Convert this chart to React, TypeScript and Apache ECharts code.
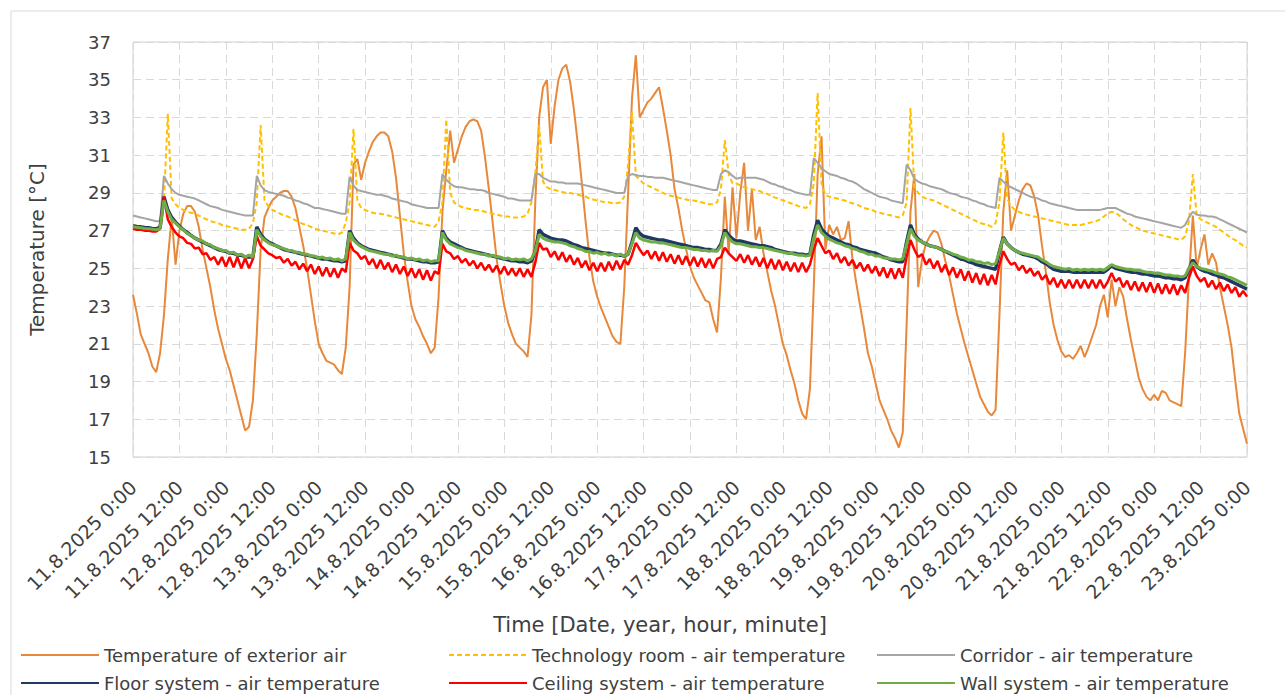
import React, { useEffect, useRef } from "react";
import * as echarts from "echarts";

// Time axis: hours since 11.8.2025 0:00, hourly samples
const START_DAY = 11;
const MONTH_YEAR = "8.2025";
const STEP_H = 1;
const X_MAX_H = 288;
const X_TICK_H = 12;
const Y_MIN = 15;
const Y_MAX = 37;
const Y_TICK = 2;

const SERIES_NAMES = [
  "Temperature of exterior air",
  "Technology room - air temperature",
  "Corridor - air temperature",
  "Floor system - air temperature",
  "Ceiling system - air temperature",
  "Wall system - air temperature",
];

const EXTERIOR = [
  23.6, 22.6, 21.5, 21.0, 20.5, 19.8, 19.5, 20.5, 22.5, 25.5, 27.7, 25.2,
  27.0, 27.9, 28.3, 28.3, 28.0, 27.2, 26.0, 25.0, 24.0, 22.8, 21.8, 21.0,
  20.2, 19.6, 18.8, 18.0, 17.2, 16.4, 16.6, 18.0, 21.5, 26.0, 27.7, 28.2,
  28.6, 28.8, 29.0, 29.1, 29.1, 28.8, 28.2, 27.2, 26.2, 25.0, 23.6, 22.2,
  21.0, 20.5, 20.1, 20.0, 19.9, 19.6, 19.4, 20.8, 24.0, 30.5, 30.8, 29.7,
  30.6, 31.2, 31.7, 32.0, 32.2, 32.2, 32.0, 31.2, 29.8, 27.8, 25.8, 24.3,
  23.0, 22.3, 21.9, 21.4, 21.0, 20.5, 20.8, 23.5, 28.0, 30.2, 32.3, 30.6,
  31.3, 32.0, 32.5, 32.8, 32.9, 32.8, 32.3, 30.9, 29.2, 27.4, 25.5, 24.2,
  23.0, 22.1, 21.5, 21.0, 20.8, 20.6, 20.3, 22.5, 28.5, 33.0, 34.6, 35.0,
  31.6, 33.6, 35.0, 35.6, 35.8, 34.9, 33.4, 31.6, 29.6, 27.5, 25.6, 24.3,
  23.5, 22.9, 22.4, 21.9, 21.4, 21.1, 21.0, 24.0, 29.0, 34.0, 36.3, 33.0,
  33.4, 33.8, 34.0, 34.3, 34.6, 33.5, 32.3, 31.0, 29.2, 28.2, 27.0, 26.0,
  25.1, 24.5, 24.1, 23.7, 23.3, 23.2, 22.3, 21.6, 24.5, 28.8, 25.8, 29.3,
  26.6, 29.0, 30.6, 27.0, 29.2, 26.5, 27.2, 25.8, 24.8, 23.8, 23.0, 22.0,
  21.0, 20.4, 19.6, 18.9, 18.0, 17.3, 17.0, 18.6, 24.0, 30.0, 32.0, 26.0,
  27.3, 26.8, 27.2, 26.5, 26.6, 27.5, 25.5, 24.2, 23.0, 21.8, 20.5, 19.8,
  18.9, 18.0, 17.5, 17.0, 16.4, 16.0, 15.5, 16.3, 22.0, 28.0, 30.0, 24.0,
  25.5, 26.3, 26.7, 27.0, 26.9, 26.3, 25.4, 24.6, 23.6, 22.6, 21.8, 21.0,
  20.3, 19.6, 18.9, 18.2, 17.8, 17.4, 17.2, 17.5, 22.5, 28.0, 30.2, 27.0,
  27.8, 28.6, 29.2, 29.5, 29.4, 28.8, 27.8, 26.2, 24.8, 23.2, 22.0, 21.2,
  20.6, 20.3, 20.4, 20.2, 20.5, 20.9, 20.3, 20.8, 21.4, 22.0, 23.0, 23.6,
  22.4, 24.4, 23.0, 24.0, 23.5, 22.3, 21.2, 20.2, 19.2, 18.6, 18.2, 18.0,
  18.3, 18.0, 18.5, 18.4, 18.0, 17.9, 17.8, 17.7, 20.5, 24.5, 27.8, 25.0,
  26.0, 26.8, 25.2, 25.8, 25.3, 24.0, 23.0, 22.0, 20.8, 19.0, 17.3, 16.5,
  15.7,
];

const TECH_ROOM = [
  27.3, 27.25, 27.2, 27.2, 27.15, 27.1, 27.1, 27.3, 28.5, 33.2, 28.7, 28.4,
  28.2, 28.1, 28.0, 27.95, 27.9, 27.8, 27.7, 27.6, 27.5, 27.45, 27.4, 27.3,
  27.25, 27.2, 27.15, 27.1, 27.05, 27.05, 27.1, 27.4, 28.5, 32.6, 28.6, 28.3,
  28.1, 28.0, 27.9, 27.8, 27.75, 27.65, 27.55, 27.45, 27.35, 27.3, 27.2, 27.1,
  27.05, 27.0, 26.95, 26.9, 26.85, 26.8, 26.9, 27.4, 28.5, 32.4, 28.6, 28.2,
  28.1, 28.0, 27.95, 27.9, 27.9, 27.85, 27.8, 27.75, 27.7, 27.65, 27.6, 27.55,
  27.5, 27.45, 27.4, 27.35, 27.3, 27.25, 27.2, 27.5, 28.5, 32.9, 29.0, 28.5,
  28.35, 28.25, 28.2, 28.15, 28.1, 28.1, 28.05, 28.0, 27.95, 27.9, 27.85, 27.8,
  27.75, 27.75, 27.7, 27.7, 27.7, 27.75, 27.9, 28.5, 30.0, 32.6, 29.6, 29.3,
  29.2, 29.15, 29.1, 29.05, 29.0, 29.0, 28.95, 28.9, 28.85, 28.8, 28.7, 28.65,
  28.6, 28.55, 28.5, 28.5, 28.45, 28.45, 28.5, 28.8, 30.5, 33.3, 29.9, 29.7,
  29.5, 29.4, 29.3, 29.2, 29.1, 29.0, 28.9, 28.85, 28.8, 28.75, 28.7, 28.65,
  28.6, 28.6, 28.55, 28.5, 28.45, 28.4, 28.4, 28.5, 29.2, 31.8, 30.0, 29.5,
  29.5, 29.4, 29.3, 29.25, 29.2, 29.15, 29.1, 29.0, 28.95, 28.85, 28.75, 28.7,
  28.6, 28.55, 28.45, 28.4, 28.3, 28.25, 28.2, 28.4, 29.5, 34.3, 29.5, 28.9,
  28.8, 28.75, 28.7, 28.65, 28.6, 28.5, 28.45, 28.4, 28.3, 28.2, 28.15, 28.1,
  28.0, 27.95, 27.9, 27.85, 27.8, 27.75, 27.7, 27.8, 28.5, 33.5, 29.3, 29.0,
  28.8, 28.7, 28.65, 28.6, 28.5, 28.4, 28.3, 28.2, 28.1, 28.0, 27.9, 27.8,
  27.7, 27.6, 27.5, 27.4, 27.35, 27.3, 27.2, 27.4, 28.5, 32.2, 28.7, 28.3,
  28.1, 28.0, 27.9, 27.85, 27.8, 27.75, 27.7, 27.65, 27.6, 27.55, 27.5, 27.45,
  27.4, 27.35, 27.3, 27.3, 27.3, 27.3, 27.35, 27.4, 27.45, 27.5, 27.6, 27.75,
  27.9, 28.0, 27.95, 27.8, 27.6, 27.45, 27.3, 27.2, 27.1, 27.0, 26.95, 26.9,
  26.85, 26.8, 26.75, 26.7, 26.65, 26.6, 26.55, 26.5, 26.7, 27.5, 30.0, 27.8,
  27.6, 27.5, 27.4, 27.3, 27.2, 27.05, 26.9, 26.75, 26.6, 26.5, 26.35, 26.2,
  26.1,
];

const CORRIDOR = [
  27.8, 27.75, 27.7, 27.65, 27.6, 27.55, 27.5, 27.5, 29.9, 29.5, 29.2, 29.0,
  28.9, 28.85, 28.8, 28.75, 28.7, 28.6, 28.5, 28.4, 28.3, 28.25, 28.2, 28.1,
  28.05, 28.0, 27.95, 27.9, 27.85, 27.8, 27.8, 27.8, 29.9, 29.4, 29.15, 29.05,
  29.0, 28.95, 28.9, 28.85, 28.75, 28.7, 28.6, 28.55, 28.45, 28.4, 28.3, 28.2,
  28.2, 28.15, 28.1, 28.05, 28.0, 27.95, 27.9, 27.9, 29.85, 29.4, 29.15, 29.1,
  29.05, 29.0, 28.95, 28.9, 28.9, 28.85, 28.8, 28.7, 28.65, 28.6, 28.55, 28.5,
  28.4, 28.35, 28.3, 28.25, 28.2, 28.2, 28.2, 28.2, 30.0, 29.7, 29.5, 29.35,
  29.3, 29.3, 29.25, 29.2, 29.2, 29.15, 29.15, 29.1, 29.0, 28.95, 28.9, 28.85,
  28.8, 28.7, 28.7, 28.65, 28.6, 28.6, 28.6, 28.6, 30.0, 30.0, 29.8, 29.7,
  29.6, 29.6, 29.55, 29.55, 29.5, 29.5, 29.5, 29.5, 29.45, 29.4, 29.35, 29.3,
  29.25, 29.2, 29.15, 29.1, 29.05, 29.0, 29.0, 29.0, 29.9, 30.0, 29.95, 29.9,
  29.9, 29.85, 29.85, 29.8, 29.8, 29.8, 29.75, 29.7, 29.65, 29.6, 29.55, 29.5,
  29.45, 29.4, 29.35, 29.3, 29.25, 29.2, 29.15, 29.15, 30.0, 30.2, 30.1, 29.9,
  29.75, 29.8, 29.8, 29.8, 29.8, 29.8, 29.75, 29.7, 29.6, 29.5, 29.45, 29.35,
  29.3, 29.2, 29.15, 29.05, 29.0, 28.95, 28.9, 28.9, 30.85, 30.6, 30.3, 30.15,
  30.0, 29.95, 29.9, 29.8, 29.75, 29.65, 29.6, 29.5, 29.35, 29.2, 29.1, 29.0,
  28.9, 28.8, 28.75, 28.7, 28.6, 28.55, 28.5, 28.45, 30.5, 30.2, 29.75, 29.6,
  29.5, 29.45, 29.35, 29.3, 29.25, 29.2, 29.1, 29.0, 28.95, 28.9, 28.8, 28.75,
  28.7, 28.6, 28.55, 28.45, 28.4, 28.3, 28.25, 28.2, 29.8, 29.6, 29.4, 29.3,
  29.2, 29.1, 29.0, 28.9, 28.8, 28.75, 28.7, 28.6, 28.55, 28.45, 28.4, 28.35,
  28.3, 28.25, 28.2, 28.15, 28.1, 28.1, 28.1, 28.1, 28.1, 28.1, 28.1, 28.15,
  28.2, 28.2, 28.2, 28.1, 28.0, 27.9, 27.85, 27.75, 27.7, 27.65, 27.6, 27.55,
  27.5, 27.45, 27.4, 27.35, 27.3, 27.25, 27.2, 27.15, 27.3, 27.7, 28.0, 27.85,
  27.8, 27.8, 27.75, 27.75, 27.7, 27.6, 27.5, 27.4, 27.3, 27.2, 27.1, 27.0,
  26.9,
];

const FLOOR_SYSTEM = [
  27.25, 27.22, 27.2, 27.17, 27.15, 27.12, 27.1, 27.15, 28.8, 28.1, 27.7, 27.45,
  27.25, 27.05, 26.9, 26.75, 26.6, 26.5, 26.4, 26.3, 26.2, 26.1, 26.0, 25.95,
  25.9, 25.8, 25.8, 25.7, 25.7, 25.6, 25.6, 25.6, 27.2, 26.8, 26.55, 26.4,
  26.3, 26.2, 26.1, 26.0, 25.95, 25.9, 25.85, 25.8, 25.75, 25.7, 25.65, 25.6,
  25.55, 25.5, 25.5, 25.45, 25.4, 25.4, 25.35, 25.4, 27.0, 26.6, 26.35, 26.2,
  26.1, 26.0, 25.95, 25.9, 25.85, 25.8, 25.75, 25.7, 25.65, 25.6, 25.55, 25.5,
  25.5, 25.45, 25.4, 25.35, 25.35, 25.3, 25.3, 25.35, 27.0, 26.6, 26.4, 26.3,
  26.2, 26.1, 26.0, 25.95, 25.9, 25.85, 25.8, 25.75, 25.7, 25.65, 25.6, 25.55,
  25.5, 25.45, 25.4, 25.4, 25.35, 25.35, 25.3, 25.4, 25.9, 27.05, 26.8, 26.7,
  26.6, 26.55, 26.5, 26.5, 26.45, 26.35, 26.25, 26.2, 26.1, 26.05, 26.0, 25.95,
  25.9, 25.85, 25.8, 25.8, 25.75, 25.7, 25.7, 25.65, 25.75, 26.4, 27.15, 26.85,
  26.7, 26.65, 26.6, 26.55, 26.5, 26.5, 26.45, 26.4, 26.35, 26.3, 26.25, 26.2,
  26.15, 26.1, 26.1, 26.05, 26.0, 26.0, 25.95, 25.95, 26.3, 27.05, 26.75, 26.55,
  26.45, 26.45, 26.4, 26.35, 26.3, 26.25, 26.2, 26.2, 26.15, 26.1, 26.0, 25.95,
  25.9, 25.85, 25.8, 25.8, 25.75, 25.75, 25.7, 25.75, 26.8, 27.55, 27.1, 26.85,
  26.7, 26.6, 26.5, 26.4, 26.3, 26.25, 26.15, 26.1, 26.0, 25.95, 25.9, 25.85,
  25.8, 25.7, 25.6, 25.55, 25.45, 25.4, 25.35, 25.35, 26.4, 27.3, 26.8, 26.55,
  26.4, 26.3, 26.2, 26.15, 26.1, 26.0, 25.9, 25.8, 25.7, 25.6, 25.5, 25.45,
  25.35, 25.3, 25.2, 25.15, 25.1, 25.05, 25.0, 24.95, 25.9, 26.65, 26.3, 26.1,
  25.95, 25.85, 25.75, 25.7, 25.65, 25.6, 25.5, 25.35, 25.25, 25.1, 24.95, 24.9,
  24.85, 24.85, 24.85, 24.8, 24.8, 24.8, 24.8, 24.8, 24.8, 24.8, 24.8, 24.8,
  24.95, 25.15, 25.0, 24.95, 24.9, 24.85, 24.8, 24.8, 24.75, 24.7, 24.7, 24.65,
  24.6, 24.6, 24.55, 24.5, 24.5, 24.45, 24.45, 24.4, 24.5, 24.95, 25.45, 25.1,
  24.95, 24.85, 24.8, 24.7, 24.65, 24.55, 24.5, 24.4, 24.3, 24.2, 24.1, 24.0,
  23.9,
];

const CEILING_SYSTEM = [
  27.1, 27.05, 27.05, 27.0, 27.0, 26.95, 26.95, 27.1, 28.8, 27.6, 27.2, 26.9,
  26.7, 26.6, 26.35, 26.3, 26.05, 26.1, 25.75, 25.8, 25.45, 25.6, 25.2, 25.6,
  25.1, 25.6, 25.05, 25.6, 25.0, 25.55, 25.0, 25.5, 26.7, 26.2, 26.0, 25.8,
  25.7, 25.55, 25.6, 25.3, 25.5, 25.15, 25.35, 24.95, 25.25, 24.85, 25.2, 24.7,
  25.1, 24.6, 25.05, 24.55, 25.0, 24.5, 25.0, 24.8, 26.35, 25.95, 25.8, 25.5,
  25.65, 25.2, 25.5, 25.0, 25.45, 24.95, 25.3, 24.8, 25.2, 24.7, 25.1, 24.6,
  25.0, 24.5, 24.95, 24.4, 24.9, 24.35, 24.85, 24.7, 26.3, 25.9, 25.8, 25.5,
  25.65, 25.3, 25.5, 25.15, 25.4, 25.0, 25.3, 24.9, 25.2, 24.8, 25.15, 24.7,
  25.1, 24.65, 25.0, 24.6, 25.0, 24.55, 24.95, 24.55, 25.3, 26.35, 26.0, 26.05,
  25.6, 25.9, 25.45, 25.85, 25.35, 25.7, 25.2, 25.55, 25.05, 25.4, 24.9, 25.3,
  24.85, 25.3, 24.85, 25.35, 24.9, 25.4, 24.95, 25.45, 25.2, 25.7, 26.35, 26.0,
  25.7, 25.95, 25.5, 25.9, 25.4, 25.85, 25.35, 25.75, 25.25, 25.7, 25.2, 25.65,
  25.15, 25.6, 25.1, 25.55, 25.05, 25.5, 25.0, 25.5, 25.6, 26.1, 25.8, 25.6,
  25.4, 25.75, 25.3, 25.7, 25.2, 25.6, 25.1, 25.55, 25.0, 25.5, 24.95, 25.45,
  24.9, 25.35, 24.85, 25.3, 24.8, 25.3, 24.8, 25.2, 26.0, 26.6, 26.2, 25.8,
  25.95, 25.5, 25.8, 25.3, 25.6, 25.15, 25.45, 25.0, 25.3, 24.85, 25.2, 24.75,
  25.1, 24.6, 25.05, 24.5, 25.0, 24.45, 25.0, 24.5, 25.6, 26.5, 26.0, 25.6,
  25.75, 25.2, 25.5, 25.0, 25.4, 24.8, 25.2, 24.65, 25.05, 24.5, 24.95, 24.35,
  24.85, 24.25, 24.75, 24.15, 24.7, 24.1, 24.65, 24.15, 25.2, 25.9, 25.5, 25.2,
  25.3, 24.9, 25.15, 24.75, 25.0, 24.6, 24.85, 24.4, 24.65, 24.15, 24.5, 24.0,
  24.4, 23.95, 24.4, 23.95, 24.4, 23.95, 24.4, 23.95, 24.4, 23.95, 24.4, 23.95,
  24.3, 24.75, 24.3, 24.5, 24.0, 24.35, 23.85, 24.3, 23.8, 24.25, 23.75, 24.25,
  23.7, 24.2, 23.65, 24.15, 23.65, 24.15, 23.6, 24.1, 23.7, 24.5, 25.1, 24.6,
  24.3, 24.5, 24.0, 24.35, 23.9, 24.25, 23.8, 24.15, 23.7, 24.0, 23.5, 23.8,
  23.5,
];

const WALL_SYSTEM = [
  27.2, 27.18, 27.15, 27.12, 27.1, 27.08, 27.05, 27.1, 28.6, 28.0, 27.6, 27.4,
  27.2, 27.05, 26.85, 26.75, 26.6, 26.5, 26.45, 26.3, 26.25, 26.1, 26.05, 25.95,
  25.95, 25.8, 25.85, 25.7, 25.75, 25.6, 25.7, 25.6, 27.05, 26.7, 26.5, 26.35,
  26.25, 26.2, 26.1, 26.05, 25.95, 25.95, 25.85, 25.85, 25.75, 25.75, 25.65, 25.65,
  25.55, 25.6, 25.5, 25.55, 25.45, 25.5, 25.4, 25.5, 26.9, 26.5, 26.3, 26.15,
  26.05, 25.95, 25.9, 25.85, 25.8, 25.75, 25.75, 25.65, 25.7, 25.6, 25.6, 25.5,
  25.55, 25.45, 25.5, 25.4, 25.45, 25.35, 25.4, 25.4, 26.9, 26.5, 26.3, 26.2,
  26.1, 26.05, 25.95, 25.9, 25.85, 25.8, 25.75, 25.75, 25.65, 25.7, 25.6, 25.6,
  25.5, 25.55, 25.45, 25.5, 25.45, 25.5, 25.4, 25.5, 25.9, 26.8, 26.6, 26.5,
  26.45, 26.4, 26.4, 26.35, 26.3, 26.2, 26.15, 26.05, 26.0, 25.9, 25.9, 25.8,
  25.85, 25.75, 25.8, 25.7, 25.75, 25.65, 25.75, 25.65, 25.75, 26.3, 26.9, 26.6,
  26.5, 26.45, 26.4, 26.4, 26.35, 26.35, 26.3, 26.25, 26.2, 26.15, 26.1, 26.1,
  26.05, 26.0, 26.0, 25.95, 25.95, 25.9, 25.95, 25.9, 26.2, 26.9, 26.6, 26.4,
  26.3, 26.3, 26.25, 26.2, 26.15, 26.15, 26.1, 26.1, 26.05, 26.0, 25.95, 25.9,
  25.85, 25.8, 25.8, 25.75, 25.7, 25.7, 25.65, 25.7, 26.6, 27.3, 26.9, 26.7,
  26.55, 26.45, 26.35, 26.3, 26.2, 26.15, 26.05, 26.0, 25.9, 25.85, 25.75, 25.75,
  25.65, 25.65, 25.55, 25.55, 25.5, 25.5, 25.45, 25.5, 26.3, 27.1, 26.7, 26.5,
  26.4, 26.3, 26.2, 26.15, 26.1, 26.0, 25.9, 25.85, 25.75, 25.7, 25.6, 25.55,
  25.45, 25.45, 25.35, 25.35, 25.25, 25.3, 25.2, 25.25, 25.9, 26.6, 26.3, 26.1,
  25.95, 25.85, 25.8, 25.75, 25.7, 25.65, 25.6, 25.45, 25.35, 25.2, 25.1, 25.05,
  25.0, 24.95, 25.0, 24.9, 24.95, 24.9, 24.95, 24.9, 24.95, 24.9, 24.95, 24.9,
  25.05, 25.2, 25.1, 25.05, 25.0, 24.95, 24.95, 24.9, 24.9, 24.85, 24.8, 24.8,
  24.75, 24.75, 24.7, 24.65, 24.65, 24.6, 24.6, 24.55, 24.6, 25.0, 25.3, 25.1,
  25.0, 24.95, 24.9, 24.85, 24.75, 24.7, 24.65, 24.55, 24.5, 24.4, 24.3, 24.2,
  24.1,
];

const SERIES_VALUES = [EXTERIOR, TECH_ROOM, CORRIDOR, FLOOR_SYSTEM, CEILING_SYSTEM, WALL_SYSTEM];
const SERIES_COLORS = ["#E8883A", "#FFC000", "#A5A5A5", "#1F3864", "#FF0000", "#70AD47"];
const SERIES_WIDTHS = [2, 2, 2, 3.5, 2.5, 3];

const FONT = '"DejaVu Sans", sans-serif';
const TEXT_COLOR = "#404040";

function tickLabel(v: number): string {
  const day = START_DAY + Math.floor(v / 24);
  const hour = v % 24;
  return `${day}.${MONTH_YEAR} ${hour}:00`;
}

export default function App() {
  const ref = useRef<HTMLDivElement>(null);

  useEffect(() => {
    document.body.style.margin = "0";
    const chart = echarts.init(ref.current!, null, { renderer: "svg" });

    const legendX = [20, 448, 876];
    const legendY = [646, 674];

    const option: any = {
      animation: false,
      backgroundColor: "#ffffff",
      textStyle: { fontFamily: FONT },
      grid: {
        left: 133,
        right: 38,
        top: 42,
        bottom: 238,
        show: true,
        borderColor: "#D0D0D0",
        borderWidth: 1,
        containLabel: false,
      },
      xAxis: {
        type: "value",
        min: 0,
        max: X_MAX_H,
        interval: X_TICK_H,
        axisLine: { show: false },
        axisTick: { show: false },
        splitLine: { show: true, lineStyle: { color: "#D9D9D9", type: [8, 5], width: 1 } },
        axisLabel: {
          rotate: 45,
          margin: 27,
          fontSize: 19,
          fontFamily: FONT,
          color: TEXT_COLOR,
          showMinLabel: true,
          showMaxLabel: true,
          formatter: (v: number) => tickLabel(v),
        },
      },
      yAxis: {
        type: "value",
        min: Y_MIN,
        max: Y_MAX,
        interval: Y_TICK,
        name: "Temperature [°C]",
        nameLocation: "middle",
        nameGap: 86,
        nameTextStyle: { fontSize: 20, fontFamily: FONT, color: TEXT_COLOR },
        axisLine: { show: false },
        axisTick: { show: false },
        splitLine: { show: true, lineStyle: { color: "#D9D9D9", type: [8, 5], width: 1 } },
        axisLabel: { margin: 22, fontSize: 18, fontFamily: FONT, color: TEXT_COLOR },
      },
      legend: SERIES_NAMES.map((n, i) => ({
        data: [n],
        left: legendX[i % 3],
        top: legendY[Math.floor(i / 3)],
        padding: 0,
        itemWidth: 78,
        itemHeight: 14,
        itemGap: 0,
        selectedMode: false,
        itemStyle: { opacity: 0 },
        textStyle: { fontSize: 18, fontFamily: FONT, color: TEXT_COLOR },
      })),
      graphic: [
        {
          type: "rect",
          silent: true,
          shape: { x: 11, y: 11, width: 1300, height: 720 },
          style: { fill: "none", stroke: "#D9D9D9", lineWidth: 1 },
        },
        {
          type: "text",
          silent: true,
          x: 660,
          y: 625,
          style: {
            text: "Time [Date, year, hour, minute]",
            align: "center",
            verticalAlign: "middle",
            fontSize: 21,
            fontFamily: FONT,
            fill: TEXT_COLOR,
          },
        },
      ],
      series: SERIES_NAMES.map((n, i) => ({
        name: n,
        type: "line",
        symbol: "none",
        showSymbol: false,
        smooth: false,
        color: SERIES_COLORS[i],
        lineStyle: {
          color: SERIES_COLORS[i],
          width: SERIES_WIDTHS[i],
          type: i === 1 ? [5, 3] : "solid",
        },
        data: SERIES_VALUES[i].map((v, k) => [k * STEP_H, v]),
        z: 2 + i,
      })),
    };

    chart.setOption(option);
    return () => chart.dispose();
  }, []);

  return <div ref={ref} style={{ width: 1285, height: 695 }} />;
}
